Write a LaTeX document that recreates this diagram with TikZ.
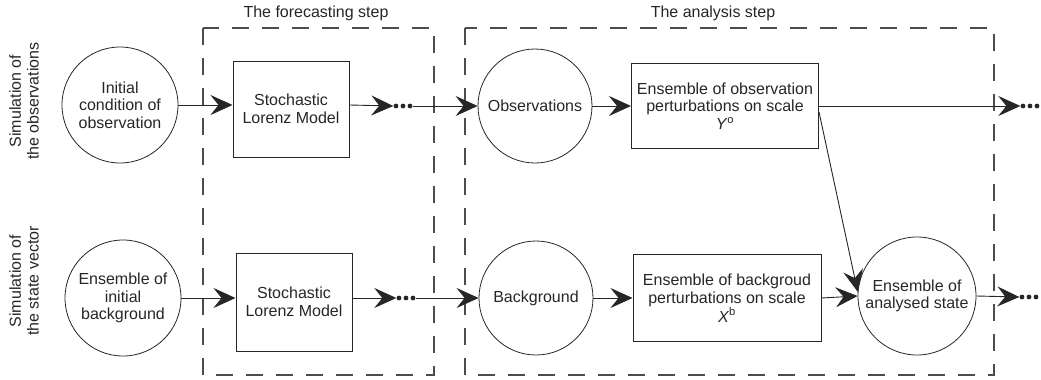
\documentclass[tikz,border=0pt]{standalone}
\usepackage{fontspec}
\setmainfont{Liberation Sans}
\usetikzlibrary{arrows.meta}
\begin{document}
\begin{tikzpicture}[x=1pt,y=-1pt,
  every node/.style={font=\fontsize{16}{17.7}\selectfont, text=black!85},
  circ/.style={draw=black!85, circle, minimum size=116pt, inner sep=0pt, align=center, line width=0.8pt},
  rbox/.style={draw=black!85, rectangle, align=center, line width=1pt, inner sep=0pt},
  arr/.style={draw=black!85, -{Stealth[length=22pt,width=20pt,inset=8pt]}, line width=0.9pt},
  frame/.style={draw=black!70, dash pattern=on 17pt off 13pt, line width=1.3pt},
  dotsn/.style={minimum width=19pt, minimum height=5pt, inner sep=0pt,
    path picture={\foreach \i in {0,1,2} \fill[black!85] ([xshift=2.5pt+\i*7pt]path picture bounding box.west) circle (2.4pt);}},
  rowlab/.style={rotate=90, align=center}
]
\useasboundingbox (0,0) rectangle (1041,380);

% frames
\draw[frame] (203,28) rectangle (434,375);
\draw[frame] (465,28) rectangle (994,375);
\node (t1) at (316,13) {The forecasting step};
\node (t2) at (713,13) {The analysis step};

% row labels
\node[rowlab] (r1) at (24,101) {Simulation of\\the observations};
\node[rowlab] (r2) at (24,281) {Simulation of\\the state vector};

% top row
\node[circ] (init) at (120,105) {Initial\\condition of\\observation};
\node[rbox, minimum width=116pt, minimum height=96pt] (sm1) at (291,109) {Stochastic\\Lorenz Model};
\node[dotsn] (d1) at (403,106) {};
\node[circ, minimum size=114pt] (obs) at (535,106) {Observations};
\node[rbox, minimum width=187pt, minimum height=85pt] (eo) at (725,106) {Ensemble of observation\\perturbations on scale\\\textit{Y}\textsuperscript{o}};
\node[dotsn] (d3) at (1030,106) {};

% bottom row
\node[circ] (ib) at (123,298) {Ensemble of\\initial\\background};
\node[rbox, minimum width=116pt, minimum height=98pt] (sm2) at (294,302) {Stochastic\\Lorenz Model};
\node[dotsn] (d2) at (406,298) {};
\node[circ, minimum size=114pt] (bg) at (536,298) {Background};
\node[rbox, minimum width=188pt, minimum height=87pt] (eb) at (727,298) {Ensemble of backgroud\\perturbations on scale\\\textit{X}\textsuperscript{b}};
\node[circ, minimum size=118pt] (an) at (917,296) {Ensemble of\\analysed state};
\node[dotsn] (d4) at (1029,297) {};

% connectors top
\draw[arr] (init.east) -- (init.east -| sm1.west);
\draw[arr] (init.east -| sm1.east) -- (d1.west);
\draw[arr] (d1.east) -- (obs.west);
\draw[arr] (obs.east) -- (obs.east -| eo.west);
\draw[arr] (eo.east) -- (d3.west);
\draw[arr] ([yshift=-6pt]eo.east) -- (an.176);

% connectors bottom
\draw[arr] (ib.east) -- (ib.east -| sm2.west);
\draw[arr] (ib.east -| sm2.east) -- (d2.west);
\draw[arr] (d2.east) -- (bg.west);
\draw[arr] (bg.east) -- (bg.east -| eb.west);
\draw[arr] (eb.east) -- (an.west);
\draw[arr] (an.east) -- (d4.west);
\end{tikzpicture}
\end{document}
